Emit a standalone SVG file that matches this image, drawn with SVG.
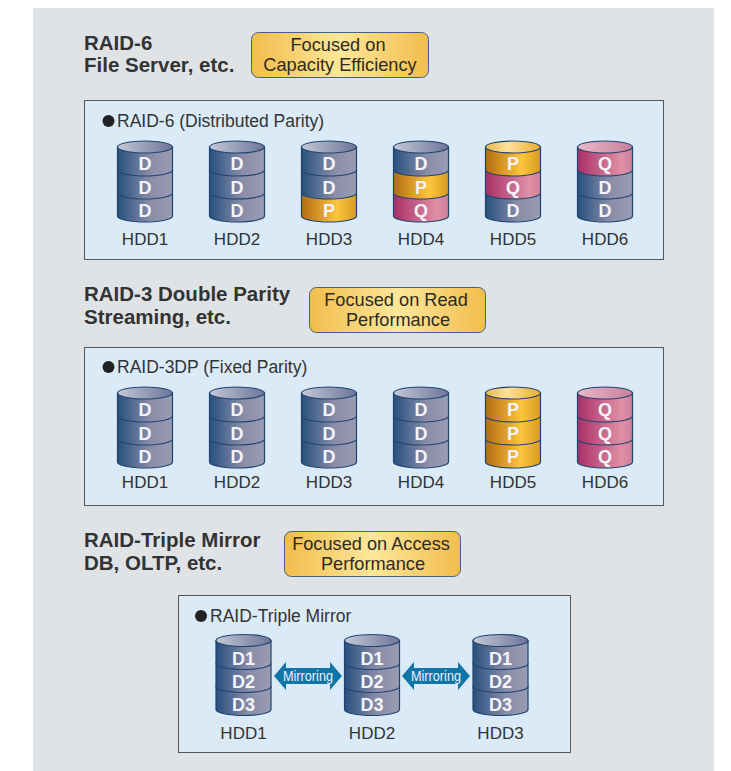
<svg xmlns="http://www.w3.org/2000/svg" width="731" height="771" viewBox="0 0 731 771">
<style>
text{font-family:"Liberation Sans",Arial,sans-serif}
.t{font-size:20.500px;font-weight:bold;fill:#333}
.b{font-size:18.200px;fill:#2e2a20;text-anchor:middle}
.p{fill:#dbeaf7;stroke:#55595c;stroke-width:1}
.h{font-size:17.500px;fill:#333}
.l{font-size:17px;fill:#333;text-anchor:middle}
.s{font-size:18px;font-weight:bold;fill:#f4f4f8;text-anchor:middle}
.pill{fill:url(#pill);stroke:#3f6383;stroke-width:1}
.m{font-size:15px;fill:#e8f2f8;text-anchor:middle}
.seg{stroke:#1f4470;stroke-width:1.2}
</style>
<defs>
<linearGradient id="gd"><stop offset="0" stop-color="#27507f"/><stop offset=".6" stop-color="#8a8da8"/><stop offset="1" stop-color="#9a9cb2"/></linearGradient>
<linearGradient id="gp"><stop offset="0" stop-color="#b46c12"/><stop offset=".65" stop-color="#fdc63e"/><stop offset="1" stop-color="#d89a20"/></linearGradient>
<linearGradient id="gq"><stop offset="0" stop-color="#a82f68"/><stop offset=".8" stop-color="#e090a6"/><stop offset="1" stop-color="#cf7f98"/></linearGradient>
<linearGradient id="td"><stop offset="0" stop-color="#c5c8d6"/><stop offset="1" stop-color="#6d7498"/></linearGradient>
<linearGradient id="tp"><stop offset="0" stop-color="#e9b94e"/><stop offset=".4" stop-color="#fde09a"/><stop offset="1" stop-color="#e8ad30"/></linearGradient>
<linearGradient id="tq"><stop offset="0" stop-color="#e9b9c8"/><stop offset="1" stop-color="#c77f9b"/></linearGradient>
<linearGradient id="pill"><stop offset="0" stop-color="#f2bd4c"/><stop offset=".5" stop-color="#fde79a"/><stop offset="1" stop-color="#f2bd4c"/></linearGradient>
<path id="sd" class="seg" fill="url(#gd)" d="M-27.500 0v23a27.500 6 0 0 0 55 0v-23z"/>
<path id="sp" class="seg" fill="url(#gp)" d="M-27.500 0v23a27.500 6 0 0 0 55 0v-23z"/>
<path id="sq" class="seg" fill="url(#gq)" d="M-27.500 0v23a27.500 6 0 0 0 55 0v-23z"/>
<ellipse id="ed" class="seg" fill="url(#td)" rx="27.500" ry="6"/>
<ellipse id="ep" class="seg" fill="url(#tp)" rx="27.500" ry="6"/>
<ellipse id="eq" class="seg" fill="url(#tq)" rx="27.500" ry="6"/>
<path id="arrow" fill="#0f76a6" d="M0 0 12-14v6H56v-6L68 0 56 14v-6H12v6z"/>
</defs>
<rect width="731" height="771" fill="#fff"/>
<rect x="33" y="8" width="681" height="763" fill="#e0e3e6"/>

<g id="raid6-heading">
<text class="t" x="84" y="50">RAID-6</text>
<text class="t" x="84" y="72">File Server, etc.</text>
</g>
<g id="raid6-badge">
<rect class="pill" x="251.500" y="32.500" width="177" height="45" rx="7"/>
<text class="b" x="338" y="51">Focused on</text>
<text class="b" x="340" y="71">Capacity Efficiency</text>
</g>
<g id="raid6-panel">
<rect class="p" x="84.500" y="100.500" width="579" height="159"/>
<circle cx="108.500" cy="121" r="6" fill="#222"/>
<text class="h" x="117" y="126.500">RAID-6 (Distributed Parity)</text>
</g>
<g id="r6-hdd1" transform="translate(145,147)"><use href="#sd" y="46"/><use href="#sd" y="23"/><use href="#sd"/><use href="#ed"/><text class="s" y="23">D</text><text class="s" y="47">D</text><text class="s" y="70">D</text><text class="l" y="98">HDD1</text></g>
<g id="r6-hdd2" transform="translate(237,147)"><use href="#sd" y="46"/><use href="#sd" y="23"/><use href="#sd"/><use href="#ed"/><text class="s" y="23">D</text><text class="s" y="47">D</text><text class="s" y="70">D</text><text class="l" y="98">HDD2</text></g>
<g id="r6-hdd3" transform="translate(329,147)"><use href="#sp" y="46"/><use href="#sd" y="23"/><use href="#sd"/><use href="#ed"/><text class="s" y="23">D</text><text class="s" y="47">D</text><text class="s" y="70">P</text><text class="l" y="98">HDD3</text></g>
<g id="r6-hdd4" transform="translate(421,147)"><use href="#sq" y="46"/><use href="#sp" y="23"/><use href="#sd"/><use href="#ed"/><text class="s" y="23">D</text><text class="s" y="47">P</text><text class="s" y="70">Q</text><text class="l" y="98">HDD4</text></g>
<g id="r6-hdd5" transform="translate(513,147)"><use href="#sd" y="46"/><use href="#sq" y="23"/><use href="#sp"/><use href="#ep"/><text class="s" y="23">P</text><text class="s" y="47">Q</text><text class="s" y="70">D</text><text class="l" y="98">HDD5</text></g>
<g id="r6-hdd6" transform="translate(605,147)"><use href="#sd" y="46"/><use href="#sd" y="23"/><use href="#sq"/><use href="#eq"/><text class="s" y="23">Q</text><text class="s" y="47">D</text><text class="s" y="70">D</text><text class="l" y="98">HDD6</text></g>

<g id="raid3-heading">
<text class="t" x="84" y="301">RAID-3 Double Parity</text>
<text class="t" x="84" y="324">Streaming, etc.</text>
</g>
<g id="raid3-badge">
<rect class="pill" x="309.500" y="287.500" width="176" height="45" rx="7"/>
<text class="b" x="396" y="306">Focused on Read</text>
<text class="b" x="398" y="326">Performance</text>
</g>
<g id="raid3-panel">
<rect class="p" x="84.500" y="347.500" width="579" height="158"/>
<circle cx="108.500" cy="367" r="6" fill="#222"/>
<text class="h" x="117" y="372.500">RAID-3DP (Fixed Parity)</text>
</g>
<g id="r3-hdd1" transform="translate(145,393)"><use href="#sd" y="46"/><use href="#sd" y="23"/><use href="#sd"/><use href="#ed"/><text class="s" y="23">D</text><text class="s" y="47">D</text><text class="s" y="70">D</text><text class="l" y="95">HDD1</text></g>
<g id="r3-hdd2" transform="translate(237,393)"><use href="#sd" y="46"/><use href="#sd" y="23"/><use href="#sd"/><use href="#ed"/><text class="s" y="23">D</text><text class="s" y="47">D</text><text class="s" y="70">D</text><text class="l" y="95">HDD2</text></g>
<g id="r3-hdd3" transform="translate(329,393)"><use href="#sd" y="46"/><use href="#sd" y="23"/><use href="#sd"/><use href="#ed"/><text class="s" y="23">D</text><text class="s" y="47">D</text><text class="s" y="70">D</text><text class="l" y="95">HDD3</text></g>
<g id="r3-hdd4" transform="translate(421,393)"><use href="#sd" y="46"/><use href="#sd" y="23"/><use href="#sd"/><use href="#ed"/><text class="s" y="23">D</text><text class="s" y="47">D</text><text class="s" y="70">D</text><text class="l" y="95">HDD4</text></g>
<g id="r3-hdd5" transform="translate(513,393)"><use href="#sp" y="46"/><use href="#sp" y="23"/><use href="#sp"/><use href="#ep"/><text class="s" y="23">P</text><text class="s" y="47">P</text><text class="s" y="70">P</text><text class="l" y="95">HDD5</text></g>
<g id="r3-hdd6" transform="translate(605,393)"><use href="#sq" y="46"/><use href="#sq" y="23"/><use href="#sq"/><use href="#eq"/><text class="s" y="23">Q</text><text class="s" y="47">Q</text><text class="s" y="70">Q</text><text class="l" y="95">HDD6</text></g>

<g id="triple-heading">
<text class="t" x="84" y="547">RAID-Triple Mirror</text>
<text class="t" x="84" y="570">DB, OLTP, etc.</text>
</g>
<g id="triple-badge">
<rect class="pill" x="284.500" y="531.500" width="176" height="45" rx="7"/>
<text class="b" x="371" y="550">Focused on Access</text>
<text class="b" x="373" y="570">Performance</text>
</g>
<g id="triple-panel">
<rect class="p" x="178.500" y="595.500" width="392" height="157"/>
<circle cx="201" cy="616" r="6" fill="#222"/>
<text class="h" x="210" y="622">RAID-Triple Mirror</text>
</g>
<g id="tm-hdd1" transform="translate(243.500,640.500)"><use href="#sd" y="46"/><use href="#sd" y="23"/><use href="#sd"/><use href="#ed"/><text class="s" y="24">D1</text><text class="s" y="47">D2</text><text class="s" y="70.500">D3</text><text class="l" y="98.500">HDD1</text></g>
<g id="tm-hdd2" transform="translate(372,640.500)"><use href="#sd" y="46"/><use href="#sd" y="23"/><use href="#sd"/><use href="#ed"/><text class="s" y="24">D1</text><text class="s" y="47">D2</text><text class="s" y="70.500">D3</text><text class="l" y="98.500">HDD2</text></g>
<g id="tm-hdd3" transform="translate(500.500,640.500)"><use href="#sd" y="46"/><use href="#sd" y="23"/><use href="#sd"/><use href="#ed"/><text class="s" y="24">D1</text><text class="s" y="47">D2</text><text class="s" y="70.500">D3</text><text class="l" y="98.500">HDD3</text></g>
<g id="connectors">
<use href="#arrow" x="274" y="676"/>
<use href="#arrow" x="402" y="676"/>
<text class="m" x="308" y="681" textLength="50" lengthAdjust="spacingAndGlyphs">Mirroring</text>
<text class="m" x="436" y="681" textLength="50" lengthAdjust="spacingAndGlyphs">Mirroring</text>
</g>
</svg>
